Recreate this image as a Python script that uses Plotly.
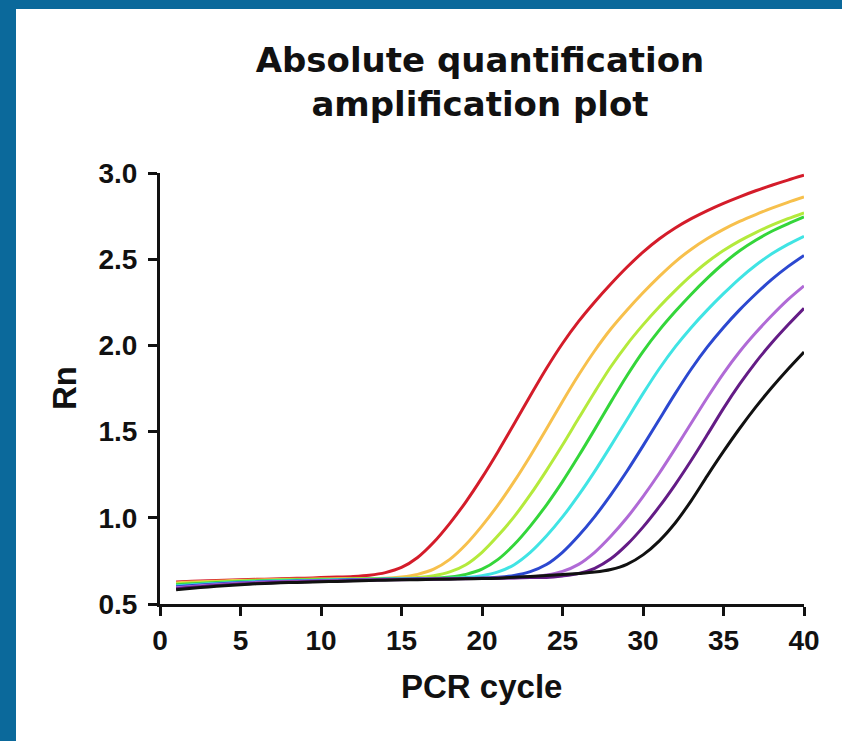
import plotly.graph_objects as go

cycles = [1, 2, 3, 4, 5, 6, 7, 8, 9, 10, 11, 12, 13, 14, 15, 16, 17, 18, 19, 20,
          21, 22, 23, 24, 25, 26, 27, 28, 29, 30, 31, 32, 33, 34, 35, 36, 37, 38, 39, 40]

red = [0.628, 0.632, 0.635, 0.638, 0.641, 0.643, 0.645, 0.648, 0.650, 0.653,
       0.656, 0.660, 0.667, 0.682, 0.712, 0.770, 0.858, 0.968, 1.093, 1.233,
       1.385, 1.545, 1.708, 1.866, 2.011, 2.139, 2.252, 2.356, 2.453, 2.541,
       2.617, 2.681, 2.735, 2.782, 2.824, 2.862, 2.897, 2.929, 2.959, 2.987]

orange = [0.622, 0.627, 0.630, 0.634, 0.637, 0.639, 0.641, 0.643, 0.644, 0.645,
          0.646, 0.647, 0.648, 0.649, 0.657, 0.672, 0.702, 0.759, 0.845, 0.953,
          1.075, 1.211, 1.359, 1.515, 1.675, 1.828, 1.969, 2.095, 2.204, 2.305,
          2.399, 2.485, 2.558, 2.620, 2.673, 2.719, 2.759, 2.796, 2.830, 2.861]

ygreen = [0.617, 0.622, 0.626, 0.630, 0.634, 0.636, 0.638, 0.640, 0.641, 0.643,
          0.644, 0.645, 0.647, 0.648, 0.649, 0.653, 0.664, 0.686, 0.728, 0.800,
          0.897, 1.007, 1.134, 1.274, 1.422, 1.577, 1.730, 1.876, 2.005, 2.119,
          2.223, 2.318, 2.406, 2.484, 2.550, 2.606, 2.654, 2.697, 2.735, 2.769]

green = [0.611, 0.617, 0.622, 0.626, 0.630, 0.633, 0.636, 0.638, 0.639, 0.640,
         0.642, 0.643, 0.645, 0.646, 0.647, 0.648, 0.649, 0.657, 0.672, 0.702,
         0.759, 0.845, 0.952, 1.074, 1.210, 1.358, 1.513, 1.671, 1.824, 1.964,
         2.087, 2.196, 2.297, 2.390, 2.475, 2.549, 2.610, 2.662, 2.705, 2.745]

cyan = [0.605, 0.612, 0.617, 0.622, 0.626, 0.630, 0.633, 0.635, 0.636, 0.638,
        0.640, 0.641, 0.643, 0.645, 0.646, 0.647, 0.648, 0.649, 0.653, 0.664,
        0.686, 0.728, 0.799, 0.894, 1.005, 1.131, 1.269, 1.417, 1.569, 1.720,
        1.863, 1.991, 2.104, 2.206, 2.300, 2.388, 2.465, 2.531, 2.586, 2.633]

blue = [0.600, 0.607, 0.613, 0.619, 0.623, 0.627, 0.630, 0.632, 0.634, 0.636,
        0.638, 0.640, 0.641, 0.643, 0.644, 0.646, 0.647, 0.648, 0.649, 0.650,
        0.655, 0.666, 0.688, 0.729, 0.800, 0.896, 1.007, 1.133, 1.270, 1.417,
        1.569, 1.720, 1.863, 1.991, 2.104, 2.206, 2.298, 2.383, 2.457, 2.522]

lpurple = [0.594, 0.602, 0.609, 0.615, 0.620, 0.624, 0.627, 0.630, 0.632, 0.634,
           0.636, 0.638, 0.640, 0.642, 0.643, 0.644, 0.646, 0.647, 0.648, 0.649,
           0.651, 0.652, 0.656, 0.668, 0.689, 0.730, 0.800, 0.893, 1.000, 1.123,
           1.257, 1.401, 1.550, 1.698, 1.838, 1.963, 2.073, 2.173, 2.265, 2.345]

dpurple = [0.588, 0.597, 0.604, 0.610, 0.616, 0.620, 0.624, 0.627, 0.629, 0.631,
           0.633, 0.636, 0.638, 0.640, 0.641, 0.643, 0.644, 0.646, 0.647, 0.649,
           0.650, 0.651, 0.653, 0.654, 0.663, 0.677, 0.707, 0.762, 0.844, 0.946,
           1.063, 1.193, 1.334, 1.483, 1.635, 1.775, 1.902, 2.015, 2.118, 2.215]

black = [0.582, 0.591, 0.599, 0.606, 0.612, 0.617, 0.621, 0.624, 0.626, 0.629,
         0.631, 0.633, 0.636, 0.638, 0.640, 0.641, 0.643, 0.644, 0.646, 0.648,
         0.650, 0.655, 0.660, 0.665, 0.671, 0.677, 0.685, 0.700, 0.730, 0.785,
         0.865, 0.970, 1.100, 1.245, 1.385, 1.518, 1.642, 1.756, 1.862, 1.962]

series_names = ["Std 1", "Std 2", "Std 3", "Std 4", "Std 5", "Std 6", "Std 7", "Std 8", "Std 9"]
series_values = [red, orange, ygreen, green, cyan, blue, lpurple, dpurple, black]
series_colors = ["#d41c2a", "#f7c04c", "#b4ea3c", "#34d63a", "#40e4e4",
                 "#2c48d0", "#b06ad6", "#641c86", "#111111"]

x_ticks = [0, 5, 10, 15, 20, 25, 30, 35, 40]
y_ticks = [0.5, 1.0, 1.5, 2.0, 2.5, 3.0]

W, H = 842, 741
L, R, T, B = 160, 38, 173, 137
pw, ph = W - L - R, H - T - B


def px_x(p):
    return (p - L) / pw


def px_y(p):
    return (H - B - p) / ph


fig = go.Figure()
for name, vals, col in zip(series_names, series_values, series_colors):
    fig.add_trace(go.Scatter(x=cycles, y=vals, mode="lines", name=name,
                             line=dict(color=col, width=3, shape="spline", smoothing=0.8)))

sans = "Liberation Sans, Arial, Helvetica, sans-serif"
tick_font = dict(family=sans, size=28, color="#111111", weight="bold")
axis_common = dict(showline=True, linewidth=3, linecolor="#111111", ticks="outside",
                   ticklen=9, tickwidth=3, tickcolor="#111111", showgrid=False,
                   zeroline=False, tickfont=tick_font)

fig.update_layout(
    width=W, height=H,
    margin=dict(l=L, r=R, t=T, b=B),
    paper_bgcolor="white", plot_bgcolor="white",
    showlegend=False,
    title=dict(text="Absolute quantification<br>amplification plot",
               x=px_x(480), xref="paper", xanchor="center",
               y=1 - 72 / H, yref="container", yanchor="middle",
               font=dict(family="DejaVu Sans, sans-serif", size=34, color="#111111", weight="bold")),
    xaxis=dict(range=[0, 40], tickvals=x_ticks, **axis_common),
    yaxis=dict(range=[0.5, 3.0], tickvals=y_ticks, tickformat=".1f",
               ticklabelstandoff=5, **axis_common),
    shapes=[
        dict(type="rect", xref="paper", yref="paper", layer="above",
             x0=px_x(0), x1=px_x(16), y0=px_y(H), y1=px_y(0),
             fillcolor="#0b699b", line=dict(width=0)),
        dict(type="rect", xref="paper", yref="paper", layer="above",
             x0=px_x(0), x1=px_x(W), y0=px_y(9), y1=px_y(0),
             fillcolor="#0b699b", line=dict(width=0)),
    ],
    annotations=[
        dict(text="Rn", xref="paper", yref="paper", x=px_x(64), y=px_y(388),
             textangle=-90, showarrow=False, xanchor="center", yanchor="middle",
             font=dict(family=sans, size=33, color="#111111", weight="bold")),
        dict(text="PCR cycle", xref="paper", yref="paper", x=px_x(481), y=px_y(686),
             showarrow=False, xanchor="center", yanchor="middle",
             font=dict(family=sans, size=33, color="#111111", weight="bold")),
    ],
)

fig.write_html(
    "out.html",
    config={"displayModeBar": False},
    post_script="document.body.style.margin='0';document.body.style.padding='0';"
                "document.body.style.overflow='hidden';",
)
